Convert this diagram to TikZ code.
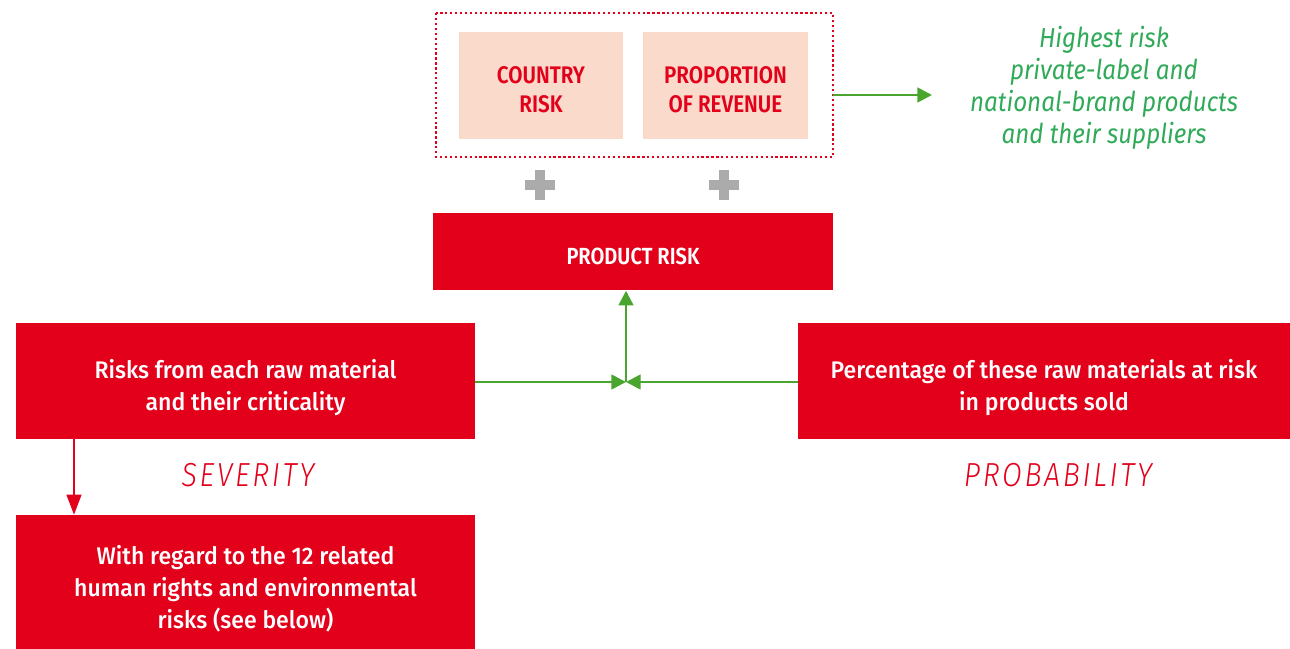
\documentclass[tikz,border=0pt]{standalone}
\usepackage{fontspec}
\setmainfont{Fira Sans}[FakeStretch=0.92]
\newfontfamily\medfont{Fira Sans Medium}[FakeStretch=0.96]
\newfontfamily\semifont{Fira Sans SemiBold}[FakeStretch=0.86]
\newfontfamily\lightitfont{Fira Sans Light Italic}[FakeStretch=0.86,LetterSpace=8]
\newfontfamily\itfont{Fira Sans Italic}[FakeStretch=0.885]
\usetikzlibrary{arrows.meta}
\definecolor{brandred}{HTML}{E2001A}
\definecolor{peach}{HTML}{FADBCB}
\definecolor{linkgreen}{HTML}{4AA52E}
\definecolor{textgreen}{HTML}{30AA58}
\definecolor{plusgray}{HTML}{ABABAB}
\tikzset{
  redbox/.style={fill=brandred, draw=none},
  boxtext/.style={text=white, align=center,
    font=\medfont\fontsize{18}{24}\selectfont},
  peachbox/.style={fill=peach, draw=none},
  peachtext/.style={text=brandred, align=center,
    font=\semifont\fontsize{18}{21.75}\selectfont},
  greenarrow/.style={draw=linkgreen, line width=2pt,
    -{Triangle[length=11pt,width=11pt]}},
  redarrow/.style={draw=brandred, line width=1.6pt,
    -{Triangle[length=15pt,width=11pt]}},
  axislabel/.style={text=brandred, font=\lightitfont\fontsize{25}{30}\selectfont},
  plussign/.style={fill=plusgray, draw=none}
}
\begin{document}
\begin{tikzpicture}[x=0.75pt, y=-0.75pt]
\useasboundingbox (0,0) rectangle (1290,649);

% top group: two factors in a dotted frame
\draw[brandred, line width=1.7pt, dotted] (436,13) rectangle (833,157);
\node[peachbox, minimum width=164*0.75pt, minimum height=107*0.75pt] (country) at (541,85.5) {};
\node[peachbox, minimum width=165*0.75pt, minimum height=107*0.75pt] (revenue) at (725.5,85.5) {};
\node[peachtext] (countrytext) at ([yshift=-3pt]country.center) {COUNTRY\\RISK};
\node[peachtext] (revenuetext) at ([yshift=-3pt]revenue.center) {PROPORTION\\OF REVENUE};
\coordinate (frameE) at (833,95);

% plus signs
\foreach \cx/\nm in {540/plusA, 724/plusB}{
  \fill[plussign] (\cx-15,185-5) rectangle (\cx+15,185+5);
  \fill[plussign] (\cx-5,185-15) rectangle (\cx+5,185+15);
  \coordinate (\nm) at (\cx,185);
}

% outcome text
\node[text=textgreen, align=center, font=\itfont\fontsize{20.5}{24}\selectfont]
  (outcome) at (1104,88) {Highest risk\\private-label and\\national-brand products\\and their suppliers};
\coordinate (outW) at (932,95);
\draw[greenarrow] (frameE) -- (outW);

% product risk
\node[redbox, minimum width=400*0.75pt, minimum height=77*0.75pt] (product) at (633,252) {};
\node[boxtext, font=\semifont\fontsize{17.5}{20}\selectfont] (producttext)
  at ([yshift=-3.5pt]product.center) {PRODUCT RISK};

% severity and probability boxes
\node[redbox, minimum width=459*0.75pt, minimum height=116*0.75pt] (raw) at (245.5,381) {};
\node[redbox, minimum width=492*0.75pt, minimum height=116*0.75pt] (pct) at (1044,381) {};
\node[redbox, minimum width=459*0.75pt, minimum height=134*0.75pt] (regard) at (245.5,582) {};
\node[boxtext] (rawtext) at ([yshift=-5pt]raw.center)
  {Risks from each raw material\\and their criticality};
\node[boxtext] (pcttext) at ([yshift=-5pt]pct.center)
  {Percentage of these raw materials at risk\\in products sold};
\node[boxtext] (regardtext) at ([yshift=-5pt]regard.center)
  {With regard to the 12 related\\human rights and environmental\\risks (see below)};

\node[axislabel] (sev) at (248,475) {SEVERITY};
\node[axislabel] (prob) at (1058,475) {PROBABILITY};

% connectors
\coordinate (join) at (626,382);
\draw[greenarrow] (raw.east |- join) -- (join);
\draw[greenarrow] (pct.west |- join) -- (join);
\draw[greenarrow] (join) -- (join |- product.south);
\draw[redarrow] (raw.south -| 74,0) -- (regard.north -| 74,0);
\end{tikzpicture}
\end{document}
